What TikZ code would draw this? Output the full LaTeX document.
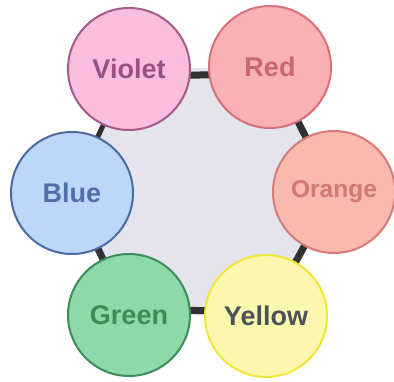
\documentclass[tikz,border=0pt]{standalone}
\usepackage{fontspec}
\setmainfont{Liberation Sans}
\definecolor{vfill}{HTML}{F9BDE0}\definecolor{vdraw}{HTML}{A65A88}\definecolor{vtext}{HTML}{9C4F82}
\definecolor{rfill}{HTML}{F9B1B5}\definecolor{rdraw}{HTML}{D8707A}\definecolor{rtext}{HTML}{C96670}
\definecolor{ofill}{HTML}{FAB9AE}\definecolor{odraw}{HTML}{D77B78}\definecolor{otext}{HTML}{D27A70}
\definecolor{yfill}{HTML}{FBF7AE}\definecolor{ydraw}{HTML}{EFE83A}\definecolor{ytext}{HTML}{4C5058}
\definecolor{gfill}{HTML}{8ED9A9}\definecolor{gdraw}{HTML}{3E8C5C}\definecolor{gtext}{HTML}{3F8A56}
\definecolor{bfill}{HTML}{BCD7F8}\definecolor{bdraw}{HTML}{4C6BA5}\definecolor{btext}{HTML}{4F6FAA}
\definecolor{hexfill}{HTML}{E4E4EE}
\definecolor{bar}{HTML}{2F3231}
\tikzset{
  colorball/.style={circle, minimum size=122pt, inner sep=0pt, line width=2pt,
    font=\fontsize{27}{27}\selectfont\bfseries},
  linkbar/.style={line width=7pt, draw=bar},
}
\begin{document}
\begin{tikzpicture}[x=1pt,y=-1pt]
\useasboundingbox (0,0) rectangle (394,381);
\fill[white] (0,0) rectangle (394,381);
\coordinate (cv) at (129,69);
\coordinate (cr) at (270,67);
\coordinate (co) at (334,192);
\coordinate (cy) at (266,316);
\coordinate (cg) at (129,315);
\coordinate (cb) at (72,193);
\fill[hexfill] (cv) -- (cr) -- (co) -- (cy) -- (cg) -- (cb) -- cycle;
\draw[linkbar] ([yshift=-7pt]cv) -- ([yshift=-7pt]cr);
\draw[linkbar] (cr) -- (co);
\draw[linkbar] (co) -- (cy);
\draw[linkbar] ([yshift=5pt]cy) -- ([yshift=5pt]cg);
\draw[linkbar] (cg) -- (cb);
\draw[linkbar, line width=5pt] (cb) -- (cv);
\node[colorball, fill=vfill, draw=vdraw, text=vtext] (violet) at (cv) {Violet};
\node[colorball, fill=rfill, draw=rdraw, text=rtext] (red) at (cr) {Red};
\node[colorball, fill=ofill, draw=odraw, text=otext, font=\fontsize{24.5}{24.5}\selectfont\bfseries] (orange) at (co) {Orange};
\node[colorball, fill=yfill, draw=ydraw, text=ytext] (yellow) at (cy) {Yellow};
\node[colorball, fill=gfill, draw=gdraw, text=gtext] (green) at (cg) {Green};
\node[colorball, fill=bfill, draw=bdraw, text=btext] (blue) at (cb) {Blue};
\end{tikzpicture}
\end{document}
